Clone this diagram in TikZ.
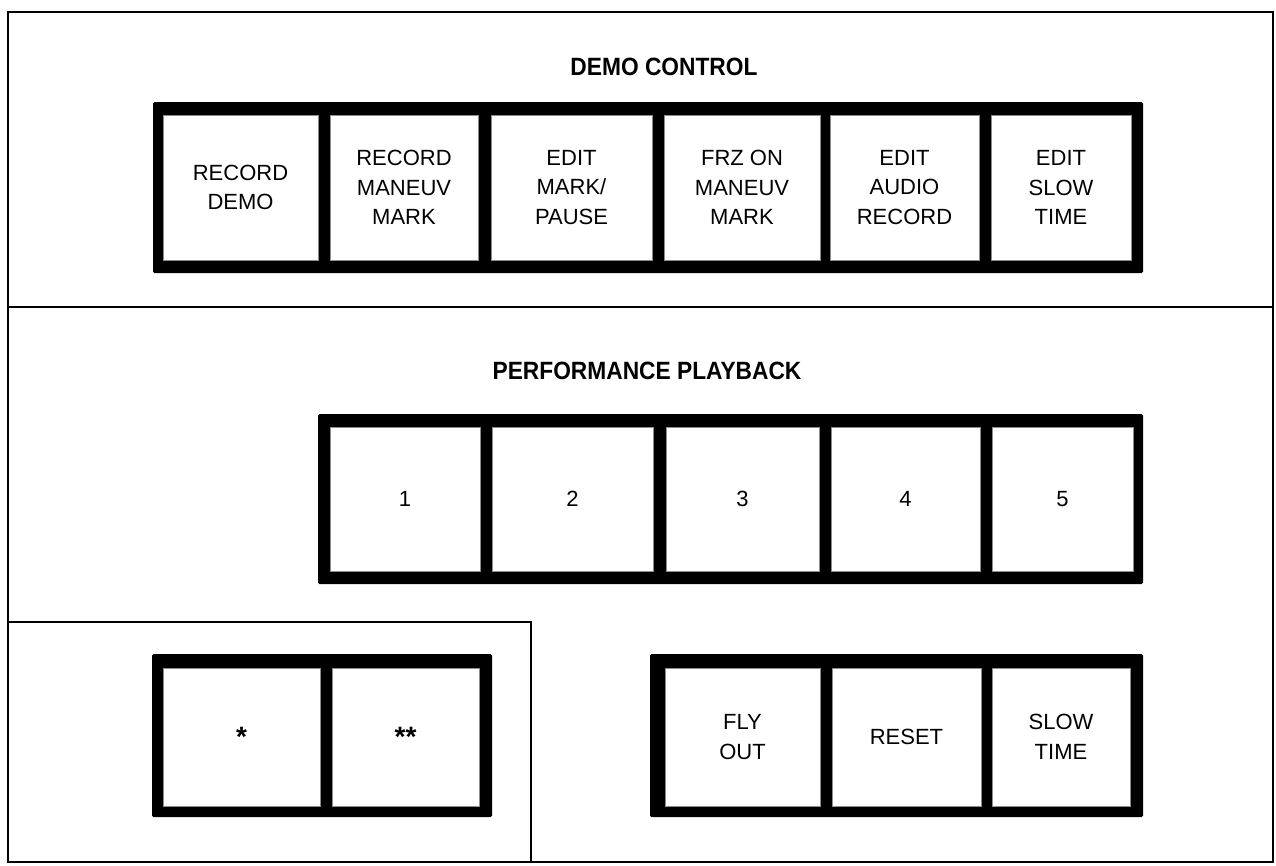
\documentclass[tikz,border=0pt]{standalone}
\usepackage{fontspec}
\setmainfont{Liberation Sans}
\newfontfamily\titlefont[FakeStretch=0.91]{Liberation Sans}
\begin{document}
\begin{tikzpicture}[x=1pt,y=-1pt,
  frameline/.style={line width=2.4pt, line cap=rect},
  barfill/.style={fill=black, rounded corners=1.5pt},
  cell/.style={fill=white, draw=black!45, line width=0.4pt, inner sep=0pt,
    align=center, font={\fontsize{22}{29.5}\selectfont}},
  title/.style={inner sep=0pt, font={\titlefont\bfseries\fontsize{25}{25}\selectfont}},
  star/.style={cell, font={\bfseries\fontsize{28}{28}\selectfont}}
]
\useasboundingbox (0,0) rectangle (1276,865);
% outer frame and section lines
\coordinate (tl) at (8,12);
\coordinate (tr) at (1273,12);
\coordinate (br) at (1273,862);
\coordinate (bl) at (8,862);
\draw[frameline] (tl) -- (tr) -- (br) -- (bl) -- cycle;
\coordinate (divl) at (8,307);
\coordinate (divr) at (1273,307);
\draw[frameline] (divl) -- (divr);
\coordinate (boxtl) at (8,622);
\coordinate (boxtr) at (531,622);
\coordinate (boxbr) at (531,862);
\draw[frameline] (boxtl) -- (boxtr) -- (boxbr);

% titles
\node[title] (demotitle) at (664,67) {DEMO CONTROL};
\node[title] (perftitle) at (647,371) {PERFORMANCE PLAYBACK};

% DEMO CONTROL bar
\fill[barfill] (153,102) rectangle (1143,273);
\node[cell, minimum width=155pt, minimum height=145pt] (d1) at (240.5,187.5) {RECORD\\DEMO};
\node[cell, minimum width=148pt, minimum height=145pt] (d2) at (404,187.5) {RECORD\\MANEUV\\MARK};
\node[cell, minimum width=161pt, minimum height=145pt] (d3) at (571.5,187.5) {EDIT\\MARK/\\PAUSE};
\node[cell, minimum width=156pt, minimum height=145pt] (d4) at (742,187.5) {FRZ ON\\MANEUV\\MARK};
\node[cell, minimum width=149pt, minimum height=145pt] (d5) at (904.5,187.5) {EDIT\\AUDIO\\RECORD};
\node[cell, minimum width=140pt, minimum height=145pt] (d6) at (1061,187.5) {EDIT\\SLOW\\TIME};

% PERFORMANCE PLAYBACK bar
\fill[barfill] (318,414) rectangle (1143,584);
\node[cell, minimum width=150pt, minimum height=144pt] (p1) at (405,499) {1};
\node[cell, minimum width=161pt, minimum height=144pt] (p2) at (572.5,499) {2};
\node[cell, minimum width=153pt, minimum height=144pt] (p3) at (742.5,499) {3};
\node[cell, minimum width=149pt, minimum height=144pt] (p4) at (905.5,499) {4};
\node[cell, minimum width=141pt, minimum height=144pt] (p5) at (1062.5,499) {5};

% star bar
\fill[barfill] (152,654) rectangle (492,817);
\node[star, minimum width=157pt, minimum height=138pt] (s1) at (241.5,737) {*};
\node[star, minimum width=147pt, minimum height=138pt] (s2) at (405.5,737) {**};

% fly bar
\fill[barfill] (650,654) rectangle (1143,817);
\node[cell, minimum width=155pt, minimum height=138pt] (f1) at (742.5,737) {FLY\\OUT};
\node[cell, minimum width=149pt, minimum height=138pt] (f2) at (906.5,737) {RESET};
\node[cell, minimum width=138pt, minimum height=138pt] (f3) at (1061,737) {SLOW\\TIME};
\end{tikzpicture}
\end{document}
